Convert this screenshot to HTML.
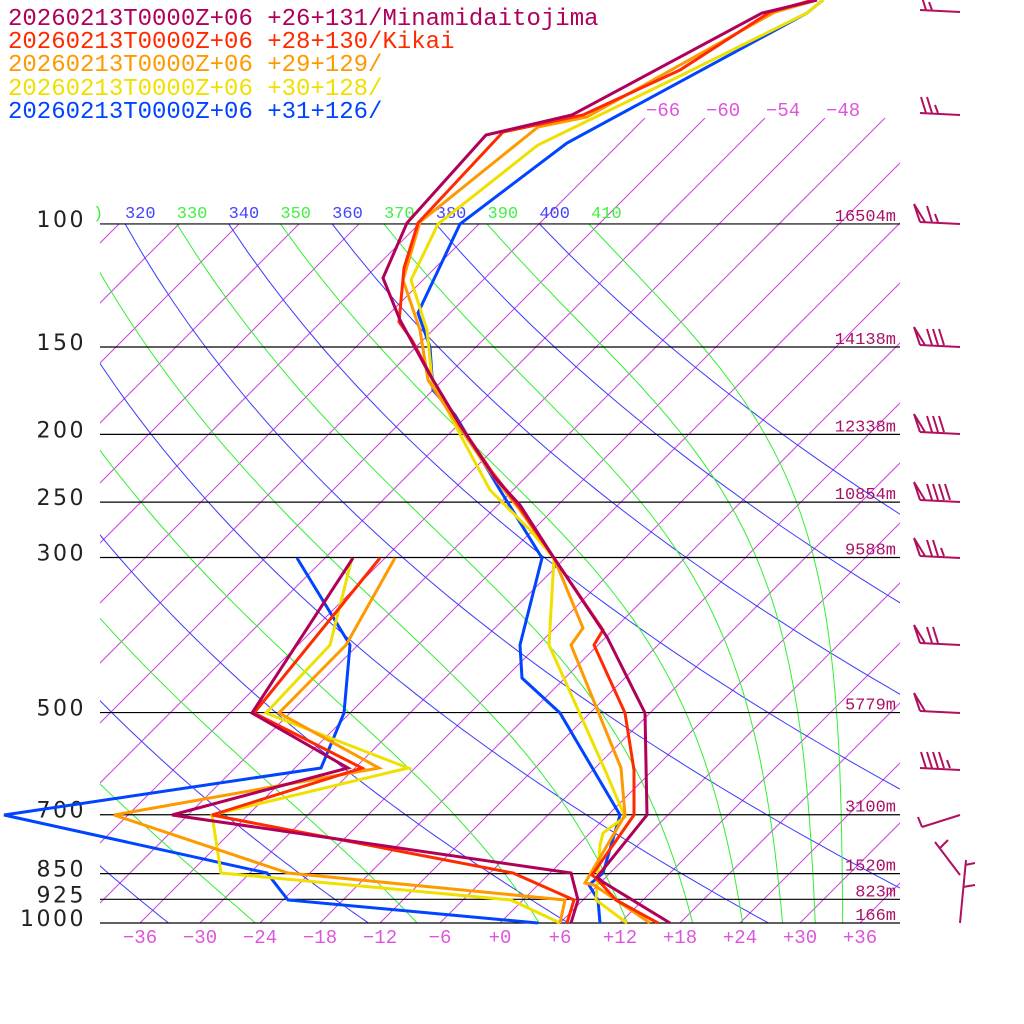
<!DOCTYPE html>
<html><head><meta charset="utf-8">
<style>
html,body{margin:0;padding:0;background:#fff;}
svg{display:block;}
</style></head>
<body>
<svg id="s" xmlns="http://www.w3.org/2000/svg" width="1024" height="1024" viewBox="0 0 1024 1024">
<defs><clipPath id="c"><rect x="100" y="0" width="800" height="923"/></clipPath></defs>
<rect width="1024" height="1024" fill="#fff"/>
<g id="grid" clip-path="url(#c)" fill="none"></g>
<g id="lbl"></g>
<g id="plines" stroke="#000" stroke-width="1.2"></g>
<g id="prof" fill="none" stroke-width="3" stroke-linejoin="miter"></g>
<g id="barbs" stroke="#b0105f" stroke-width="2" fill="none"></g>
<g font-family="Liberation Mono, monospace" font-size="24">
<text x="8" y="25" fill="#b0005a">20260213T0000Z+06 +26+131/Minamidaitojima</text>
<text x="8" y="48" fill="#ff2a00">20260213T0000Z+06 +28+130/Kikai</text>
<text x="8" y="71" fill="#ff9900">20260213T0000Z+06 +29+129/</text>
<text x="8" y="95" fill="#f0e000">20260213T0000Z+06 +30+128/</text>
<text x="8" y="118" fill="#0044ff">20260213T0000Z+06 +31+126/</text>
</g>
</svg>
<script>
const NS="http://www.w3.org/2000/svg";
const Y=p=>923-303.6*Math.log(1000/p);
const X=(T,y)=>500+10*T+(923-y);
function el(par,tag,attrs,txt){const e=document.createElementNS(NS,tag);for(const k in attrs)e.setAttribute(k,attrs[k]);if(txt!==undefined)e.textContent=txt;document.getElementById(par).appendChild(e);return e;}
for(let T=-150;T<=60;T+=6){
  const ytop = T>=-66?118:224;
  el('grid','line',{x1:X(T,ytop),y1:ytop,x2:X(T,923),y2:923,stroke:'#cc44dd','stroke-width':1});
}
[-66,-60,-54,-48].forEach(T=>{el('lbl','text',{x:X(T,118)+1,y:116,fill:'#dd55dd','font-family':'Liberation Mono, monospace','font-size':19},String(T).replace('-','\u2212'));});
function dryPts(th){let s=[];for(let p=100;p<=1000;p+=10){const T=th*Math.pow(p/1000,0.2857)-273.15;const y=Y(p);s.push(X(T,y).toFixed(1)+','+y.toFixed(1));}return s.join(' ');}
for(let th=200;th<=400;th+=20){el('grid','polyline',{points:dryPts(th),stroke:'#3a3aff','stroke-width':1});}
function es(Tc){return 6.112*Math.exp(17.67*Tc/(Tc+243.5));}
function thetae(T,p){const Tc=T-273.15;const e=es(Tc);const r=0.622*e/(p-e);return T*Math.pow(1000/p,0.2857)*Math.exp(2.5e6*r/(1004*T));}
function moistPts(te){let s=[];for(let p=100;p<=1000;p+=10){let lo=150,hi=330;for(let i=0;i<50;i++){const m=(lo+hi)/2;if(thetae(m,p)>te)hi=m;else lo=m;}const T=(lo+hi)/2-273.15;const y=Y(p);s.push(X(T,y).toFixed(1)+','+y.toFixed(1));}return s.join(' ');}
for(let te=230;te<=410;te+=20){el('grid','polyline',{points:moistPts(te),stroke:'#33ee33','stroke-width':1});}
for(let th=320;th<=410;th+=10){
  const T=th*Math.pow(0.1,0.2857)-273.15;const x=X(T,224);
  el('lbl','text',{x:x,y:218,fill:(th%20==0)?'#4444ff':'#44ee44','font-family':'Liberation Mono, monospace','font-size':17},String(th));
}
el('lbl','text',{x:93,y:218,fill:'#44ee44','font-family':'Liberation Mono, monospace','font-size':17},')');
const levs=[[100,'16504m'],[150,'14138m'],[200,'12338m'],[250,'10854m'],[300,'9588m'],[500,'5779m'],[700,'3100m'],[850,'1520m'],[925,'823m'],[1000,'166m']];
levs.forEach(([p,h])=>{const y=Y(p);el('plines','line',{x1:100,y1:y,x2:900,y2:y});
 el('lbl','text',{x:86,y:y+3,'text-anchor':'end',fill:'#222','font-family':'DejaVu Sans, sans-serif','font-size':22,'letter-spacing':'2.5'},String(p));
 el('lbl','text',{x:896,y:y-3,'text-anchor':'end',fill:'#aa1166','font-family':'Liberation Mono, monospace','font-size':17},h);});
for(let T=-36;T<=36;T+=6){const s=T<0?'\u2212'+(-T):'+'+T;el('lbl','text',{x:500+10*T,y:943,'text-anchor':'middle',fill:'#dd55dd','font-family':'Liberation Mono, monospace','font-size':19},s);}
const prof={
'#0044ff':[
 [[823,0],[807,13],[567,143],[460,224],[418,313],[430,347],[433,390],[455,415],[500,490],[542,558],[520,645],[522,678],[560,713],[620,815],[603,873],[589,885],[598,900],[600,923]],
 [[297,558],[350,645],[344,713],[321,768],[4,815],[267,873],[288,900],[538,923]]],
'#f0e000':[
 [[823,0],[807,13],[682,75],[538,145],[438,224],[411,280],[427,330],[432,380],[455,425],[490,490],[530,530],[554,558],[549,645],[605,770],[625,817],[603,833],[600,845],[596,900],[627,923]],
 [[352,558],[330,645],[266,713],[408,768],[212,815],[221,873],[511,900],[560,923]]],
'#ff9900':[
 [[817,0],[775,12],[587,117],[538,127],[420,222],[403,280],[420,330],[428,380],[458,425],[490,472],[520,510],[554,558],[583,628],[571,645],[621,768],[625,815],[585,883],[594,885],[650,923]],
 [[395,558],[346,645],[279,713],[379,768],[114,815],[288,873],[565,900],[560,923]]],
'#ff2a00':[
 [[813,0],[770,12],[680,70],[583,115],[503,132],[418,223],[404,268],[399,322],[412,340],[433,380],[460,425],[492,472],[520,508],[554,558],[603,630],[594,645],[625,713],[634,770],[634,815],[592,875],[598,880],[616,900],[658,923]],
 [[380,558],[254,713],[362,768],[212,815],[513,873],[574,900],[567,923]]],
'#b0005a':[
 [[817,0],[762,13],[572,115],[486,135],[407,223],[383,278],[400,320],[430,375],[460,425],[495,478],[520,505],[554,558],[607,637],[645,713],[647,815],[597,877],[603,882],[670,923]],
 [[353,558],[252,713],[348,768],[172,815],[571,873],[578,900],[571,923]]]
};
for(const c in prof){prof[c].forEach(pts=>{el('prof','polyline',{points:pts.map(q=>q.join(',')).join(' '),stroke:c});});}
function barb(y,nflag,nbarb,half){
 let d='M960 '+y+' L920 '+(y-2);
 let x=920;
 for(let i=0;i<nflag;i++){d+=' M'+x+' '+(y-2)+' L'+(x-6)+' '+(y-20)+' L'+(x+5)+' '+(y-2);x+=6;}
 for(let i=0;i<nbarb;i++){x+=6;d+=' M'+x+' '+(y-2)+' L'+(x-5)+' '+(y-18);}
 if(half){x+=6;d+=' M'+x+' '+(y-2)+' L'+(x-3)+' '+(y-10);}
 el('barbs','path',{d:d});
}
barb(12,0,1,true);
barb(115,0,2,true);
barb(224,1,1,true);
barb(347,1,3,false);
barb(434,1,3,false);
barb(502,1,4,false);
barb(558,1,2,true);
barb(645,1,2,false);
barb(713,1,0,false);
barb(770,0,4,true);
el('barbs','path',{d:'M960 815 L922 827 M922 827 L918 817'});
el('barbs','path',{d:'M960 875 L935 842 M940 848 L948 840'});
el('barbs','path',{d:'M960 923 L966 860 M965 865 L975 863 M963 887 L975 885'});
</script>
</body></html>
